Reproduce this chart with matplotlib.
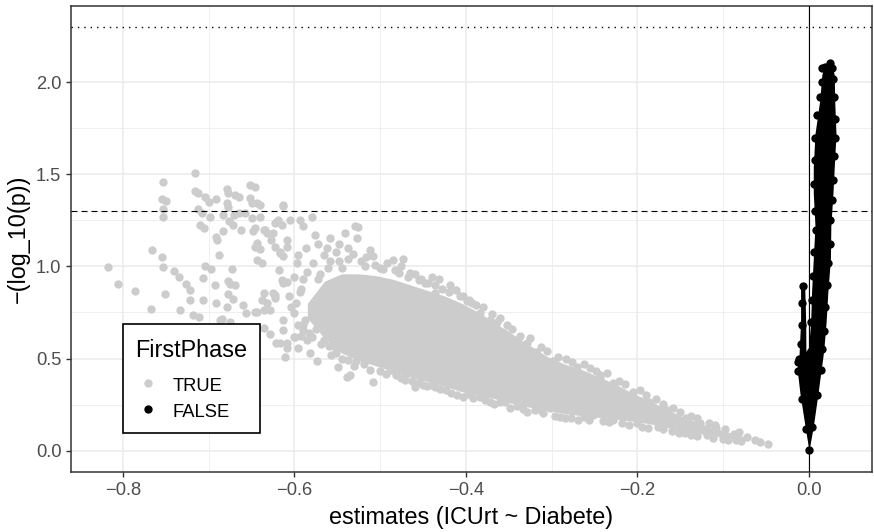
import numpy as np
import matplotlib.pyplot as plt
from matplotlib.patches import Rectangle

plt.rcParams['font.family'] = ['Liberation Sans', 'DejaVu Sans']

# FirstPhase == TRUE : scattered points (estimate, -log10 p)
true_pts = [
    (-0.818, 0.996), (-0.806, 0.905), (-0.786, 0.866), (-0.767, 0.770), (-0.766, 1.090),
    (-0.754, 1.050), (-0.753, 0.996), (-0.751, 0.851), (-0.753, 1.458), (-0.755, 1.366),
    (-0.750, 1.358), (-0.753, 1.310), (-0.753, 1.268), (-0.741, 0.974), (-0.735, 0.940),
    (-0.734, 0.762), (-0.726, 0.905), (-0.722, 0.870), (-0.722, 0.820), (-0.718, 0.735),
    (-0.711, 0.728), (-0.707, 0.820), (-0.707, 0.936), (-0.704, 1.003), (-0.697, 0.985),
    (-0.716, 1.507), (-0.716, 1.410), (-0.712, 1.400), (-0.704, 1.375), (-0.700, 1.350),
    (-0.691, 1.366), (-0.713, 1.310), (-0.708, 1.290), (-0.699, 1.268), (-0.710, 1.226),
    (-0.706, 1.208), (-0.692, 1.159), (-0.690, 1.145), (-0.683, 1.190), (-0.688, 1.061),
    (-0.679, 1.420), (-0.678, 1.398), (-0.669, 1.389), (-0.665, 1.376), (-0.679, 1.347),
    (-0.678, 1.325), (-0.683, 1.280), (-0.671, 1.280), (-0.676, 1.249), (-0.672, 1.226),
    (-0.662, 1.200), (-0.665, 1.290), (-0.658, 1.290), (-0.652, 1.443), (-0.646, 1.430),
    (-0.652, 1.371), (-0.644, 1.347), (-0.650, 1.344), (-0.640, 1.335), (-0.649, 1.262),
    (-0.646, 1.208), (-0.648, 1.190), (-0.636, 1.199), (-0.644, 1.127), (-0.646, 1.105),
    (-0.640, 1.094), (-0.644, 1.036), (-0.638, 1.018), (-0.632, 1.184), (-0.627, 1.145),
    (-0.623, 1.235), (-0.613, 1.335), (-0.621, 1.244), (-0.615, 1.226), (-0.623, 1.108),
    (-0.617, 1.072), (-0.613, 1.054), (-0.618, 0.982), (-0.609, 1.145), (-0.693, 0.898),
    (-0.673, 0.985), (-0.677, 0.923), (-0.675, 0.905), (-0.669, 0.898), (-0.677, 0.851),
    (-0.672, 0.822), (-0.679, 0.782), (-0.692, 0.800), (-0.660, 0.788), (-0.656, 0.746),
    (-0.646, 0.750), (-0.684, 0.714), (-0.687, 0.710), (-0.675, 0.700), (-0.636, 0.855),
    (-0.638, 0.820), (-0.632, 0.800), (-0.636, 0.764), (-0.625, 0.855), (-0.623, 0.828),
    (-0.615, 0.927), (-0.609, 0.918), (-0.636, 0.665), (-0.629, 0.634), (-0.621, 0.583),
    (-0.611, 0.511), (-0.609, 0.556), (-0.601, 0.619), (-0.640, 1.270), (-0.634, 1.199),
    (-0.625, 1.180), (-0.619, 1.253), (-0.609, 1.108), (-0.617, 1.081), (-0.597, 1.018),
    (-0.613, 0.909), (-0.601, 0.945), (-0.623, 0.846), (-0.644, 0.755), (-0.629, 0.764),
    (-0.613, 0.710), (-0.601, 0.746), (-0.588, 0.710), (-0.613, 0.656), (-0.590, 0.656),
    (-0.580, 0.619), (-0.613, 1.330), (-0.580, 1.270), (-0.594, 1.253), (-0.605, 1.253),
    (-0.590, 1.217), (-0.576, 1.171), (-0.559, 1.154), (-0.541, 1.181), (-0.529, 1.220),
    (-0.526, 1.213), (-0.527, 1.154), (-0.537, 1.100), (-0.512, 1.090), (-0.508, 1.054),
    (-0.485, 1.036), (-0.473, 1.040), (-0.465, 0.964), (-0.448, 0.909), (-0.432, 0.931),
    (-0.419, 0.900), (-0.436, 0.855), (-0.399, 0.810), (-0.393, 0.800), (-0.384, 0.746),
    (-0.372, 0.710), (-0.364, 0.700), (-0.356, 0.638), (-0.341, 0.601), (-0.329, 0.583),
    (-0.318, 0.538), (-0.582, 0.529), (-0.574, 0.484), (-0.557, 0.520), (-0.549, 0.456),
    (-0.535, 0.411), (-0.539, 0.400), (-0.596, 0.556), (-0.609, 0.583), (-0.599, 0.619),
    (-0.617, 0.583), (-0.508, 0.375), (-0.471, 0.384), (-0.459, 0.348), (-0.450, 0.357),
    (-0.436, 0.348), (-0.423, 0.330), (-0.403, 0.293), (-0.384, 0.293), (-0.372, 0.266),
    (-0.349, 0.230), (-0.329, 0.212), (-0.302, 0.230), (-0.285, 0.176), (-0.269, 0.167),
    (-0.252, 0.194), (-0.228, 0.167), (-0.436, 0.900), (-0.403, 0.837), (-0.298, 0.484),
    (-0.271, 0.453), (-0.244, 0.393), (-0.228, 0.348), (-0.244, 0.410), (-0.228, 0.366),
    (-0.205, 0.320), (-0.187, 0.266), (-0.166, 0.221), (-0.143, 0.176), (-0.127, 0.149),
    (-0.108, 0.122), (-0.088, 0.091), (-0.201, 0.149), (-0.176, 0.130), (-0.145, 0.094),
    (-0.119, 0.085), (-0.094, 0.058), (-0.0727, 0.073), (-0.063, 0.058), (-0.057, 0.049),
    (-0.0474, 0.035), (-0.573, 0.930), (-0.561, 0.990), (-0.548, 1.030), (-0.518, 1.000),
    (-0.497, 0.985), (-0.478, 0.962), (-0.455, 0.925), (-0.566, 0.600), (-0.553, 0.560),
    (-0.528, 0.488), (-0.488, 0.440), (-0.470, 0.415), (-0.355, 0.262), (-0.316, 0.225),
    # upper fringe of the dense cloud
    (-0.592, 0.880), (-0.585, 0.970), (-0.578, 1.020), (-0.570, 0.960), (-0.566, 1.060),
    (-0.558, 1.030), (-0.552, 1.080), (-0.545, 0.990), (-0.538, 1.040), (-0.532, 1.070),
    (-0.522, 1.030), (-0.516, 1.050), (-0.506, 1.010), (-0.500, 0.990), (-0.492, 1.020),
    (-0.483, 0.980), (-0.476, 1.000), (-0.468, 0.940), (-0.460, 0.960), (-0.452, 0.930),
    (-0.444, 0.910), (-0.440, 0.940), (-0.428, 0.880), (-0.420, 0.860), (-0.412, 0.870),
    (-0.407, 0.840), (-0.396, 0.820), (-0.388, 0.790), (-0.380, 0.780), (-0.370, 0.740),
    (-0.360, 0.720), (-0.352, 0.680), (-0.346, 0.660), (-0.337, 0.620), (-0.325, 0.610),
    (-0.312, 0.560), (-0.306, 0.540), (-0.293, 0.510), (-0.283, 0.500), (-0.276, 0.480),
    (-0.262, 0.470), (-0.255, 0.450), (-0.248, 0.430), (-0.236, 0.420), (-0.222, 0.380),
    (-0.214, 0.360), (-0.197, 0.330), (-0.190, 0.300), (-0.178, 0.280), (-0.170, 0.255),
    (-0.158, 0.230), (-0.150, 0.210), (-0.137, 0.190), (-0.130, 0.175), (-0.117, 0.150),
    (-0.110, 0.140), (-0.098, 0.120), (-0.082, 0.100),
    # lower fringe of the dense cloud
    (-0.590, 0.680), (-0.583, 0.640), (-0.575, 0.660), (-0.569, 0.580), (-0.560, 0.570),
    (-0.552, 0.530), (-0.545, 0.500), (-0.537, 0.490), (-0.530, 0.460), (-0.519, 0.470),
    (-0.512, 0.440), (-0.500, 0.430), (-0.493, 0.415), (-0.482, 0.410), (-0.476, 0.395),
    (-0.463, 0.380), (-0.455, 0.370), (-0.446, 0.350), (-0.440, 0.355), (-0.430, 0.335),
    (-0.417, 0.315), (-0.410, 0.300), (-0.398, 0.305), (-0.392, 0.285), (-0.378, 0.275),
    (-0.367, 0.255), (-0.360, 0.265), (-0.340, 0.240), (-0.334, 0.225), (-0.320, 0.220),
    (-0.310, 0.205), (-0.296, 0.190), (-0.290, 0.185), (-0.277, 0.175), (-0.262, 0.180),
    (-0.257, 0.165), (-0.240, 0.160), (-0.233, 0.155), (-0.218, 0.150), (-0.210, 0.140),
    (-0.195, 0.130), (-0.188, 0.125), (-0.170, 0.115), (-0.160, 0.105), (-0.152, 0.095),
    (-0.138, 0.085), (-0.130, 0.080), (-0.112, 0.070), (-0.100, 0.065), (-0.085, 0.060),
    (-0.079, 0.052),
    # looser points on the left end of the cloud
    (-0.598, 0.800), (-0.594, 0.860), (-0.590, 0.930), (-0.596, 0.680), (-0.604, 0.780),
    (-0.606, 0.840), (-0.596, 1.060), (-0.586, 1.100), (-0.572, 1.120), (-0.562, 1.100),
    (-0.548, 1.120), (-0.585, 0.600), (-0.592, 0.620),
]
true_x, true_y = zip(*true_pts)

# outline of the solid part of the gray cloud
cloud_x = [-0.585, -0.565, -0.545, -0.525, -0.505, -0.485, -0.465, -0.445, -0.425,
           -0.405, -0.385, -0.365, -0.345, -0.325, -0.305, -0.285, -0.265, -0.245,
           -0.225, -0.205, -0.185, -0.165, -0.145, -0.125, -0.105, -0.090, -0.075]
cloud_top = [0.80, 0.92, 0.96, 0.96, 0.95, 0.93, 0.90, 0.87, 0.84, 0.80, 0.75, 0.69,
             0.63, 0.57, 0.51, 0.47, 0.44, 0.40, 0.36, 0.31, 0.27, 0.22, 0.18, 0.145,
             0.115, 0.095, 0.075]
cloud_bottom = [0.72, 0.61, 0.53, 0.49, 0.46, 0.43, 0.40, 0.375, 0.35, 0.32, 0.30, 0.28,
                0.255, 0.235, 0.22, 0.20, 0.19, 0.18, 0.17, 0.16, 0.145, 0.125, 0.105,
                0.09, 0.075, 0.065, 0.06]

# FirstPhase == FALSE : solid black column near 0
false_lvl = [0.00, 0.13, 0.31, 0.45, 0.50, 0.56, 0.70, 0.86, 1.04, 1.22, 1.40, 1.54,
             1.72, 1.90, 2.04, 2.09]
false_left = [0.000, -0.0045, -0.0105, -0.0140, -0.0100, -0.0005, 0.0020, 0.0030,
              0.0050, 0.0070, 0.0050, 0.0050, 0.0070, 0.0125, 0.0150, 0.0180]
false_right = [0.000, 0.0050, 0.0105, 0.0145, 0.0160, 0.0175, 0.0200, 0.0220, 0.0250,
               0.0255, 0.0280, 0.0295, 0.0315, 0.0300, 0.0295, 0.0270]
spur_lvl = [0.48, 0.70, 0.895]
spur_left = [-0.0120, -0.0098, -0.0098]
spur_right = [-0.0035, -0.0038, -0.0050]
false_pts = [
    (0.0, 0.005), (-0.0035, 0.12), (0.0040, 0.13), (-0.0085, 0.28), (0.0095, 0.30),
    (-0.0125, 0.43), (0.0135, 0.44), (-0.0130, 0.48), (0.0150, 0.55), (0.0170, 0.65),
    (0.0190, 0.78), (0.0210, 0.90), (0.0225, 1.02), (0.0240, 1.12), (0.0245, 1.25),
    (0.0265, 1.36), (0.0275, 1.47), (0.0290, 1.60), (0.0300, 1.70), (0.0305, 1.80),
    (0.0290, 1.92), (0.0285, 2.02), (0.0270, 2.08), (0.0245, 2.105), (0.0185, 2.085),
    (0.0150, 2.075), (0.0150, 2.00), (0.0130, 1.92), (0.0090, 1.82), (0.0075, 1.70),
    (0.0065, 1.58), (0.0060, 1.45), (0.0065, 1.30), (0.0080, 1.20), (0.0060, 1.08),
    (0.0045, 0.95), (0.0030, 0.82), (0.0020, 0.70), (-0.0074, 0.895), (-0.0085, 0.80),
    (-0.0080, 0.68), (-0.0090, 0.58), (-0.0120, 0.50),
]
false_x, false_y = zip(*false_pts)

p_cuts = [0.05, 0.005]
x_ticks = [-0.8, -0.6, -0.4, -0.2, 0.0]
x_minor = [-0.7, -0.5, -0.3, -0.1]
y_ticks = [0.0, 0.5, 1.0, 1.5, 2.0]
y_minor = [0.25, 0.75, 1.25, 1.75]

gray = '#cccccc'
dot = 36

fig = plt.figure(figsize=(8.74, 5.32), dpi=100)
ax = fig.add_axes([71 / 874, 60 / 532, 801 / 874, 466 / 532])

ax.fill_between(cloud_x, cloud_bottom, cloud_top, color=gray, lw=0, zorder=2)
ax.scatter(true_x, true_y, s=dot, color=gray, lw=0, zorder=2)
ax.fill_betweenx(false_lvl, false_left, false_right, color='black', lw=0, zorder=3)
ax.fill_betweenx(spur_lvl, spur_left, spur_right, color='black', lw=0, zorder=3)
ax.scatter(false_x, false_y, s=dot, color='black', lw=0, zorder=3)

ax.axhline(-np.log10(p_cuts[0]), color='black', lw=0.8, ls=(0, (5.4, 3.6)), zorder=4)
ax.axhline(-np.log10(p_cuts[1]), color='black', lw=1.0, ls=(0, (1, 3.6)), zorder=4)
ax.axvline(0, color='black', lw=0.8, zorder=4)

ax.set_xlim(-0.8606, 0.0735)
ax.set_ylim(-0.116, 2.414)
ax.set_xticks(x_ticks)
ax.set_xticklabels([f'{t:.1f}'.replace('-', '\u2212') for t in x_ticks])
ax.set_xticks(x_minor, minor=True)
ax.set_yticks(y_ticks)
ax.set_yticklabels([f'{t:.1f}' for t in y_ticks])
ax.set_yticks(y_minor, minor=True)
ax.set_axisbelow(True)
ax.grid(which='major', color='#ebebeb', lw=1.1)
ax.grid(which='minor', color='#ebebeb', lw=0.55)
ax.tick_params(which='major', length=3.5, width=1.0, color='#333333',
               labelsize=13.2, labelcolor='#4d4d4d', pad=3.5)
ax.tick_params(which='minor', length=0)
for s in ax.spines.values():
    s.set_color('#333333')
    s.set_linewidth(1.1)

fig.text(471.5 / 874, 1 - 524 / 532, 'estimates (ICUrt ~ Diabete)', ha='center',
         va='baseline', fontsize=16.8)
fig.text(18 / 874, 1 - 239 / 532, '\u2212(log_10(p))', rotation=90, ha='center',
         va='center', fontsize=16.8)

# legend box
ax.add_patch(Rectangle((0.0649, 0.0837), 0.171, 0.234, transform=ax.transAxes,
                       facecolor='white', edgecolor='black', lw=1.2, zorder=6))
ax.text(0.0799, 0.2474, 'FirstPhase', transform=ax.transAxes, fontsize=16.8,
        va='baseline', zorder=7)
ax.scatter([0.0958], [0.1903], s=dot, color=gray, lw=0, transform=ax.transAxes,
           zorder=7, clip_on=False)
ax.scatter([0.0958], [0.1352], s=dot, color='black', lw=0, transform=ax.transAxes,
           zorder=7, clip_on=False)
ax.text(0.127, 0.1745, 'TRUE', transform=ax.transAxes, fontsize=13.2,
        va='baseline', zorder=7)
ax.text(0.127, 0.1187, 'FALSE', transform=ax.transAxes, fontsize=13.2,
        va='baseline', zorder=7)

fig.savefig('out.png', dpi=100)
